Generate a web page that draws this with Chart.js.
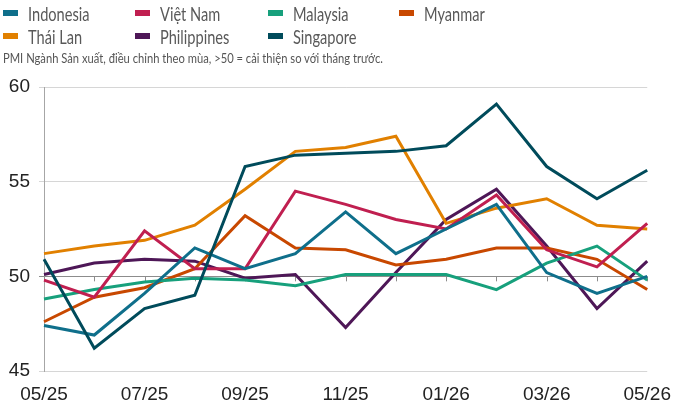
<!DOCTYPE html>
<html>
<head>
<meta charset="utf-8">
<script src="https://cdn.jsdelivr.net/npm/chart.js@4/dist/chart.umd.min.js"></script>
<style>
  body { margin: 0; background: #fff; }
  #wrap { position: relative; width: 675px; height: 405px; overflow: hidden; }
  #chart { position: absolute; left: 0; top: 0; }
  .item { position: absolute; font-family: Lato, sans-serif; font-size: 20px; color: #595959; line-height: 20px; white-space: nowrap; transform: scaleX(0.73); transform-origin: 0 0; }
  .box { position: absolute; width: 15px; height: 6px; }
  #sub { position: absolute; left: 3px; top: 49px; font-family: Lato, sans-serif; font-size: 14px; color: #555; white-space: nowrap; transform: scaleX(0.8); transform-origin: 0 0; }
</style>
</head>
<body>
<div id="wrap">
  <canvas id="chart" width="675" height="405"></canvas>
  <div id="legend"></div>
  <div id="sub">PMI Ngành Sản xuất, điều chỉnh theo mùa, &gt;50 = cải thiện so với tháng trước.</div>
</div>
<script>
const months = ['05/25', '06/25', '07/25', '08/25', '09/25', '10/25', '11/25', '12/25', '01/26', '02/26', '03/26', '04/26', '05/26']

const indonesia   = [47.4, 46.9, 49.1, 51.5, 50.4, 51.2, 53.4, 51.2, 52.5, 53.8, 50.2, 49.1, 50.0]
const vietnam     = [49.8, 48.9, 52.4, 50.4, 50.4, 54.5, 53.8, 53.0, 52.5, 54.3, 51.4, 50.5, 52.8]
const malaysia    = [48.8, 49.3, 49.7, 49.9, 49.8, 49.5, 50.1, 50.1, 50.1, 49.3, 50.7, 51.6, 49.8]
const myanmar     = [47.6, 48.9, 49.4, 50.4, 53.2, 51.5, 51.4, 50.6, 50.9, 51.5, 51.5, 50.9, 49.3]
const thailand    = [51.2, 51.6, 51.9, 52.7, 54.6, 56.6, 56.8, 57.4, 52.8, 53.6, 54.1, 52.7, 52.5]
const philippines = [50.1, 50.7, 50.9, 50.8, 49.9, 50.1, 47.3, 50.2, 53.0, 54.6, 51.6, 48.3, 50.8]
const singapore   = [50.9, 46.2, 48.3, 49.0, 55.8, 56.4, 56.5, 56.6, 56.9, 59.1, 55.8, 54.1, 55.6]

const series = [
  { label: 'Indonesia', data: indonesia, color: '#0f6f8b' },
  { label: 'Việt Nam', data: vietnam, color: '#c01f50' },
  { label: 'Malaysia', data: malaysia, color: '#17a07c' },
  { label: 'Myanmar', data: myanmar, color: '#c84800' },
  { label: 'Thái Lan', data: thailand, color: '#e18000' },
  { label: 'Philippines', data: philippines, color: '#4e1757' },
  { label: 'Singapore', data: singapore, color: '#004b5b' }
]

// legend laid out in 4 columns like the original
const legendPos = [[3, 4], [135, 4], [268, 4], [399, 4], [3, 27], [135, 27], [268, 27]]
const legend = document.getElementById('legend')
series.forEach((s, i) => {
  let box = document.createElement('div')
  box.className = 'box'
  box.style.background = s.color
  box.style.left = legendPos[i][0] + 'px'
  box.style.top = (legendPos[i][1] + 6) + 'px'
  legend.appendChild(box)
  let txt = document.createElement('div')
  txt.className = 'item'
  txt.textContent = s.label
  txt.style.left = (legendPos[i][0] + 25) + 'px'
  txt.style.top = (legendPos[i][1] - 1) + 'px'
  legend.appendChild(txt)
})

// small tick marks hanging under the 50 line
const midTicks = {
  id: 'midTicks',
  beforeDatasetsDraw(chart) {
    const { ctx, scales: { x, y } } = chart
    const py = y.getPixelForValue(50)
    ctx.save()
    ctx.strokeStyle = '#8c8c8c'
    ctx.lineWidth = 1
    months.forEach((m, i) => {
      const px = Math.round(x.getPixelForValue(i)) + 0.5
      ctx.beginPath()
      ctx.moveTo(px, py)
      ctx.lineTo(px, py + 5)
      ctx.stroke()
    })
    ctx.restore()
  }
}

new Chart(document.getElementById('chart'), {
  type: 'line',
  data: {
    labels: months,
    datasets: series.map((s, i) => ({
      label: s.label,
      data: s.data,
      borderColor: s.color,
      backgroundColor: s.color,
      borderWidth: 3,
      pointRadius: 0,
      tension: 0,
      order: s.label === 'Singapore' ? 0 : i + 1
    }))
  },
  options: {
    responsive: false,
    animation: false,
    layout: { padding: { top: 87, right: 6, left: 0, bottom: 0 } },
    plugins: { legend: { display: false }, tooltip: { enabled: false } },
    scales: {
      x: {
        grid: { display: false },
        border: { display: false },
        afterFit: scale => { scale.height = 34 },
        ticks: {
          autoSkip: false,
          maxRotation: 0,
          padding: 4,
          color: '#222',
          font: { family: 'Liberation Sans, Arial', size: 19 },
          callback: (v, i) => i % 2 === 0 ? months[i] : ''
        }
      },
      y: {
        min: 45,
        max: 60,
        afterFit: scale => { scale.width = 44 },
        border: { color: '#a6a6a6' },
        grid: {
          tickLength: 5,
          color: c => c.tick && c.tick.value === 50 ? '#8c8c8c' : '#d6d6d6'
        },
        ticks: {
          stepSize: 5,
          padding: 9,
          color: '#222',
          font: { family: 'Liberation Sans, Arial', size: 19 }
        }
      }
    }
  },
  plugins: [midTicks]
})
</script>
</body>
</html>
